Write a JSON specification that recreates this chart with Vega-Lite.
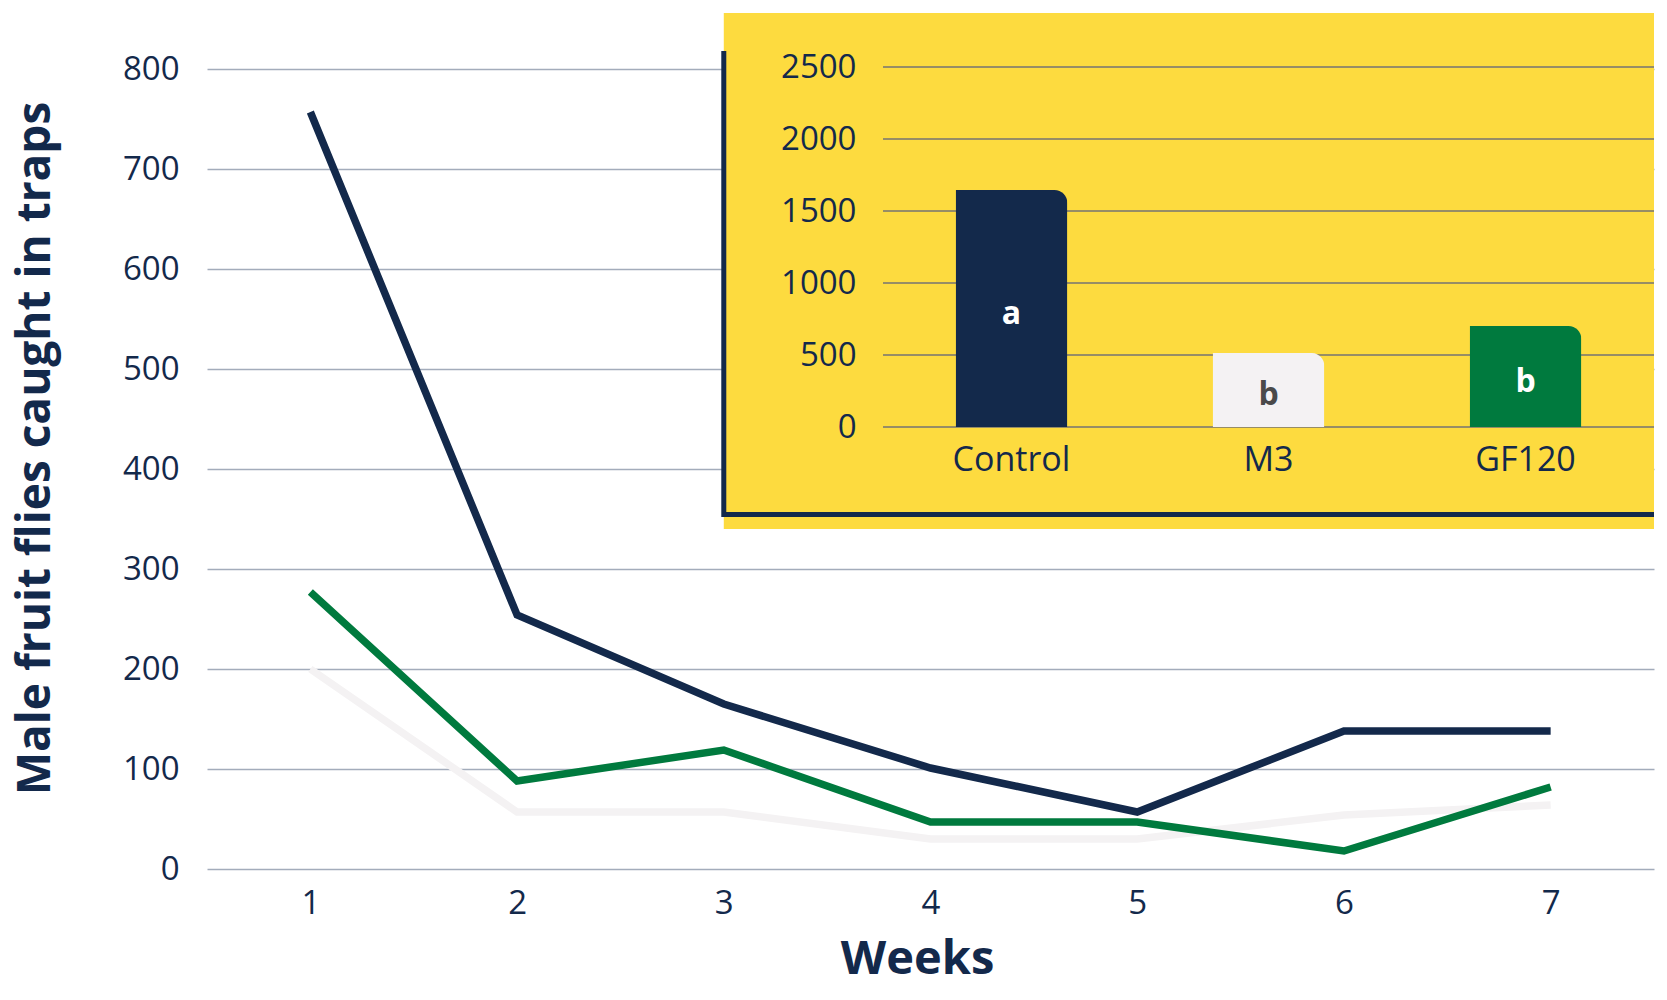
{
  "$schema": "https://vega.github.io/schema/vega-lite/v6.json",
  "description": "Male fruit flies caught in traps per week, with an inset of totals per treatment",
  "width": 1447,
  "height": 800,
  "autosize": {"type": "none"},
  "padding": {"left": 207, "top": 69, "right": 13, "bottom": 131},
  "background": "white",
  "config": {"font": "Open Sans", "view": {"stroke": null}},
  "datasets": {
    "weekly": [
      {"week": 1, "treatment": "M3", "flies": 200},
      {"week": 2, "treatment": "M3", "flies": 57},
      {"week": 3, "treatment": "M3", "flies": 57},
      {"week": 4, "treatment": "M3", "flies": 30},
      {"week": 5, "treatment": "M3", "flies": 30},
      {"week": 6, "treatment": "M3", "flies": 54},
      {"week": 7, "treatment": "M3", "flies": 64},
      {"week": 1, "treatment": "GF120", "flies": 277},
      {"week": 2, "treatment": "GF120", "flies": 88},
      {"week": 3, "treatment": "GF120", "flies": 119},
      {"week": 4, "treatment": "GF120", "flies": 47},
      {"week": 5, "treatment": "GF120", "flies": 47},
      {"week": 6, "treatment": "GF120", "flies": 18},
      {"week": 7, "treatment": "GF120", "flies": 82},
      {"week": 1, "treatment": "Control", "flies": 757},
      {"week": 2, "treatment": "Control", "flies": 254},
      {"week": 3, "treatment": "Control", "flies": 165},
      {"week": 4, "treatment": "Control", "flies": 101},
      {"week": 5, "treatment": "Control", "flies": 57},
      {"week": 6, "treatment": "Control", "flies": 138},
      {"week": 7, "treatment": "Control", "flies": 138}
    ],
    "totals": [
      {"treatment": "Control", "total": 1645, "group": "a"},
      {"treatment": "M3", "total": 514, "group": "b"},
      {"treatment": "GF120", "total": 701, "group": "b"}
    ],
    "insetGrid": [
      {"v": 0}, {"v": 500}, {"v": 1000}, {"v": 1500}, {"v": 2000}, {"v": 2500}
    ],
    "insetBox": [
      {"x": 3, "x2": 7.5, "y": 340, "y2": 856}
    ],
    "insetFrame": [
      {"x": 3, "x2": 3, "y": 352, "y2": 818},
      {"x": 3, "x2": 7.5, "y": 354.5, "y2": 354.5}
    ]
  },
  "layer": [
    {
      "layer": [
        {
          "data": {"name": "weekly"},
          "mark": {"type": "line", "strokeWidth": 7.5, "strokeCap": "butt", "strokeJoin": "miter"},
          "encoding": {
            "x": {
              "field": "week",
              "type": "quantitative",
              "scale": {"domain": [0.5, 7.5], "nice": false, "zero": false},
              "axis": {
                "values": [1, 2, 3, 4, 5, 6, 7],
                "format": "d",
                "grid": false,
                "domain": false,
                "ticks": false,
                "labelFlush": false,
                "labelFontSize": 33,
                "labelColor": "#13294b",
                "labelPadding": 44,
                "labelBaseline": "alphabetic",
                "title": "Weeks",
                "titleFontSize": 47,
                "titleFontWeight": "bold",
                "titleColor": "#13294b",
                "titleX": 710,
                "titleY": 104,
                "titleAlign": "center",
                "titleBaseline": "alphabetic"
              }
            },
            "y": {
              "field": "flies",
              "type": "quantitative",
              "scale": {"domain": [0, 800], "nice": false},
              "axis": {
                "values": [0, 100, 200, 300, 400, 500, 600, 700, 800],
                "format": "d",
                "grid": true,
                "gridColor": "#a3acbb",
                "gridWidth": 1.5,
                "domain": false,
                "ticks": false,
                "labelFontSize": 33,
                "labelColor": "#13294b",
                "labelPadding": 28,
                "title": "Male fruit flies caught in traps",
                "titleFontSize": 46,
                "titleFontWeight": "bold",
                "titleColor": "#13294b",
                "titleAngle": -90,
                "titleX": -158,
                "titleY": 379,
                "titleAlign": "center",
                "titleBaseline": "alphabetic"
              }
            },
            "color": {
              "field": "treatment",
              "type": "nominal",
              "scale": {"domain": ["Control", "M3", "GF120"], "range": ["#13294b", "#f4f2f3", "#007a3e"]},
              "legend": null
            }
          }
        },
        {
          "data": {"name": "insetBox"},
          "mark": {"type": "rect", "fill": "#fddb3f"},
          "encoding": {
            "x": {"field": "x", "type": "quantitative"},
            "x2": {"field": "x2"},
            "y": {"field": "y", "type": "quantitative"},
            "y2": {"field": "y2"}
          }
        },
        {
          "data": {"name": "insetFrame"},
          "mark": {"type": "rule", "color": "#13294b", "strokeWidth": 5},
          "encoding": {
            "x": {"field": "x", "type": "quantitative"},
            "x2": {"field": "x2"},
            "y": {"field": "y", "type": "quantitative"},
            "y2": {"field": "y2"}
          }
        }
      ]
    },
    {
      "layer": [
        {
          "data": {"name": "insetGrid"},
          "mark": {"type": "rule", "color": "#747373", "strokeWidth": 1.5},
          "encoding": {
            "y": {
              "field": "v",
              "type": "quantitative",
              "scale": {"domain": [0, 2500], "range": [358, -2], "nice": false},
              "axis": {
                "values": [0, 500, 1000, 1500, 2000, 2500],
                "format": "d",
                "orient": "left",
                "offset": -676,
                "grid": false,
                "domain": false,
                "ticks": false,
                "labelFontSize": 33,
                "labelColor": "#13294b",
                "labelPadding": 27,
                "title": null,
                "zindex": 1
              }
            },
            "x": {
              "datum": "Control",
              "type": "nominal",
              "bandPosition": 0,
              "scale": {
                "type": "band",
                "domain": ["Control", "M3", "GF120"],
                "range": [676, 1447],
                "paddingInner": 0,
                "paddingOuter": 0
              },
              "axis": {
                "orient": "bottom",
                "offset": -442,
                "grid": false,
                "domain": false,
                "ticks": false,
                "labelAngle": 0,
                "labelFontSize": 34,
                "labelColor": "#13294b",
                "labelPadding": 43,
                "labelBaseline": "alphabetic",
                "title": null,
                "zindex": 1
              }
            },
            "x2": {"datum": "GF120", "bandPosition": 1}
          }
        },
        {
          "data": {"name": "totals"},
          "mark": {"type": "bar", "width": {"band": 0.435}, "cornerRadiusTopRight": 13},
          "encoding": {
            "x": {"field": "treatment", "type": "nominal"},
            "y": {"field": "total", "type": "quantitative"},
            "color": {"field": "treatment", "type": "nominal", "legend": null}
          }
        },
        {
          "data": {"name": "totals"},
          "mark": {"type": "text", "fontSize": 32, "fontWeight": "bold", "baseline": "middle", "dy": 5},
          "encoding": {
            "x": {"field": "treatment", "type": "nominal"},
            "y": {"field": "total", "type": "quantitative", "stack": "zero", "bandPosition": 0.5},
            "text": {"field": "group"},
            "fill": {
              "field": "treatment",
              "type": "nominal",
              "scale": {"domain": ["Control", "M3", "GF120"], "range": ["#ffffff", "#4a4a4a", "#ffffff"]},
              "legend": null
            }
          }
        }
      ]
    }
  ],
  "resolve": {"scale": {"x": "independent", "y": "independent"}}
}
